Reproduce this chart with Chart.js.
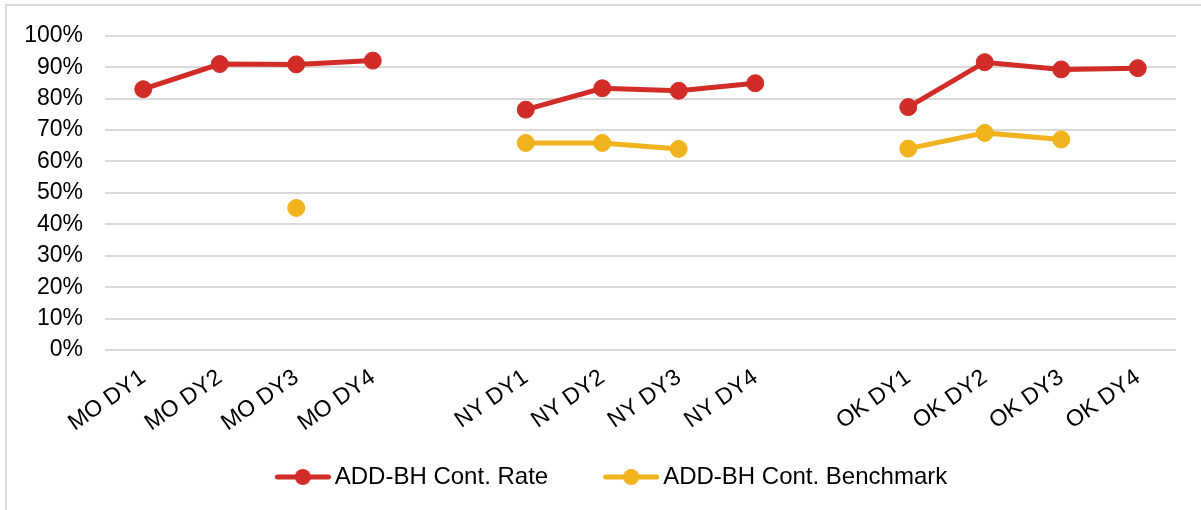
<!DOCTYPE html>
<html lang="en">
<head>
    <meta charset="UTF-8">
    <title>ADD-BH Continuation</title>
    <script src="https://cdn.jsdelivr.net/npm/chart.js"></script>
    <style>
        body {
            margin: 0;
            padding: 0;
            background-color: #fff;
            overflow: hidden;
        }
        .frame {
            position: absolute;
            left: 5px;
            top: 4px;
            width: 1220px;
            height: 530px;
            border: 2px solid #d9d9d9;
        }
        .chartBox {
            position: absolute;
            left: 0;
            top: 0;
            width: 1201px;
            height: 510px;
        }
    </style>
</head>
<body>
    <div class="frame"></div>
    <div class="chartBox">
        <canvas id="myChart" width="1201" height="510"></canvas>
    </div>
    <script>
        // categories, with an empty slot between each state
        const labels = ['MO DY1', 'MO DY2', 'MO DY3', 'MO DY4', '',
                        'NY DY1', 'NY DY2', 'NY DY3', 'NY DY4', '',
                        'OK DY1', 'OK DY2', 'OK DY3', 'OK DY4'];

        const contRate = [0.830, 0.910, 0.909, 0.921, null,
                          0.765, 0.833, 0.825, 0.849, null,
                          0.773, 0.916, 0.893, 0.897];

        const contBenchmark = [null, null, 0.452, null, null,
                               0.659, 0.659, 0.640, null, null,
                               0.641, 0.691, 0.670, null];

        const yTicks = [0, 0.1, 0.2, 0.3, 0.4, 0.5, 0.6, 0.7, 0.8, 0.9, 1];

        const RED = '#d12c27';
        const GOLD = '#f0b31e';
        const FONT = "'Liberation Sans', Arial, sans-serif";

        // line-with-dot swatch for the legend; the blank left part
        // widens the gap between the two legend entries
        function legendSwatch(color) {
            const c = document.createElement('canvas');
            c.width = 94;
            c.height = 20;
            const g = c.getContext('2d');
            g.strokeStyle = color;
            g.lineWidth = 5;
            g.lineCap = 'round';
            g.beginPath();
            g.moveTo(40.5, 10);
            g.lineTo(91.5, 10);
            g.stroke();
            g.fillStyle = color;
            g.beginPath();
            g.arc(66, 10, 8, 0, Math.PI * 2);
            g.fill();
            return c;
        }
        const swatches = [legendSwatch(RED), legendSwatch(GOLD)];

        const ctx = document.getElementById('myChart');

        const myChart = new Chart(ctx, {
            type: 'line',
            data: {
                labels: labels,
                datasets: [{
                    label: 'ADD-BH Cont. Rate',
                    data: contRate,
                    borderColor: RED,
                    backgroundColor: RED,
                    borderWidth: 5,
                    pointRadius: 8.5,
                    pointBorderWidth: 1,
                    tension: 0,
                    spanGaps: false,
                }, {
                    label: 'ADD-BH Cont. Benchmark',
                    data: contBenchmark,
                    borderColor: GOLD,
                    backgroundColor: GOLD,
                    borderWidth: 5,
                    pointRadius: 8.5,
                    pointBorderWidth: 1,
                    tension: 0,
                    spanGaps: false,
                }]
            },
            options: {
                responsive: false,
                animation: false,
                layout: {
                    padding: { left: 16, right: 25, top: 23, bottom: 11 }
                },
                plugins: {
                    tooltip: { enabled: false },
                    legend: {
                        position: 'bottom',
                        labels: {
                            usePointStyle: true,
                            pointStyleWidth: 78,
                            padding: 25,
                            color: '#000',
                            font: { family: FONT, size: 24 },
                            generateLabels: (chart) => {
                                const items = Chart.defaults.plugins.legend.labels.generateLabels(chart);
                                items.forEach((item, i) => { item.pointStyle = swatches[i]; });
                                return items;
                            }
                        }
                    }
                },
                scales: {
                    x: {
                        offset: true,
                        afterFit: (axis) => {
                            axis.height = 90;
                        },
                        grid: { display: false, drawTicks: false },
                        border: { display: false },
                        ticks: {
                            autoSkip: false,
                            minRotation: 35,
                            maxRotation: 35,
                            padding: 14,
                            color: '#000',
                            font: { family: FONT, size: 23 }
                        }
                    },
                    y: {
                        min: 0,
                        max: 1,
                        afterBuildTicks: (axis) => {
                            axis.ticks = yTicks.map(v => ({ value: v }));
                        },
                        afterFit: (axis) => {
                            axis.width = 89;
                        },
                        grid: { color: '#d9d9d9', lineWidth: 2, drawTicks: false },
                        border: { display: false },
                        ticks: {
                            padding: 22,
                            color: '#000',
                            font: { family: FONT, size: 23 },
                            callback: (v) => Math.round(v * 100) + '%'
                        }
                    }
                }
            }
        });
    </script>
</body>
</html>
